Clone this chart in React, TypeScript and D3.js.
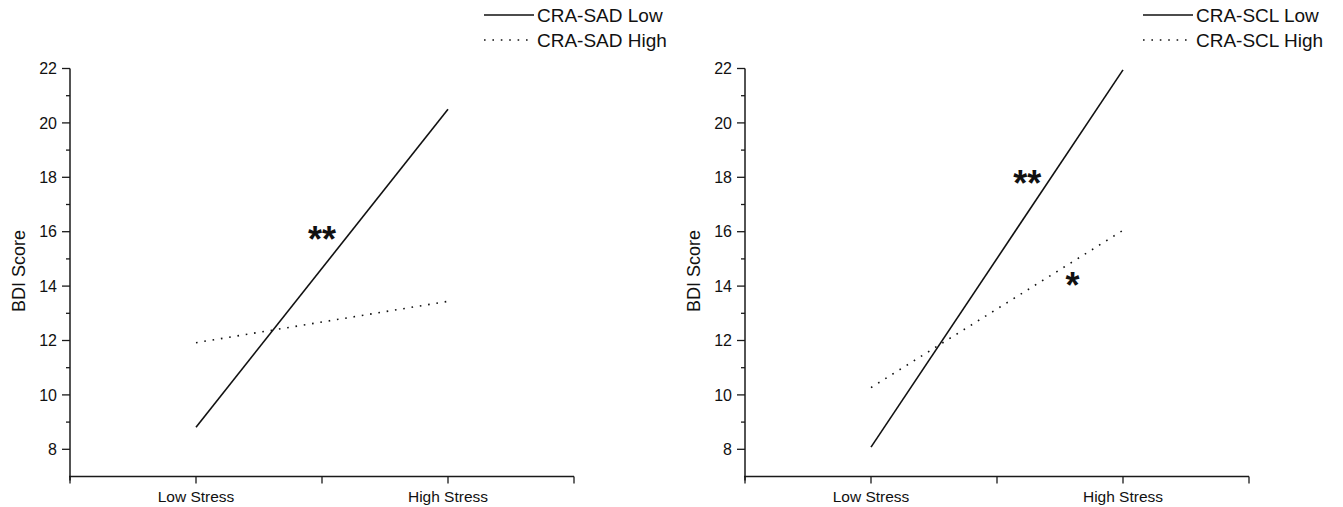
import React, { useEffect, useRef } from "react";
import * as d3 from "d3";

const categories = ["Low Stress", "High Stress"];
const yTicksMajor = [8, 10, 12, 14, 16, 18, 20, 22];
const yTicksMinor = [9, 11, 13, 15, 17, 19, 21];

const sadLow = [8.81, 20.5];
const sadHigh = [11.92, 13.44];
const sclLow = [8.08, 21.95];
const sclHigh = [10.27, 16.05];

const panels = [
  {
    legend: ["CRA-SAD Low", "CRA-SAD High"],
    low: sadLow,
    high: sadHigh,
    stars: [{ text: "**", xPos: 1.5, y: 15.25 }],
  },
  {
    legend: ["CRA-SCL Low", "CRA-SCL High"],
    low: sclLow,
    high: sclHigh,
    stars: [
      { text: "**", xPos: 1.62, y: 17.31 },
      { text: "*", xPos: 1.8, y: 13.56 },
    ],
  },
];

const W = 1343;
const H = 507;
const FONT = "'Liberation Sans', Arial, Helvetica, sans-serif";

export default function App() {
  const ref = useRef<SVGSVGElement>(null);
  useEffect(() => {
    document.body.style.margin = "0";
    const svg = d3.select(ref.current);
    svg.selectAll("*").remove();
    const layouts = [
      { x0: 70, x1: 574, legX: 484 },
      { x0: 745, x1: 1249, legX: 1143 },
    ];
    panels.forEach((p, i) => {
      const L = layouts[i];
      const x = d3.scaleLinear().domain([0.5, 2.5]).range([L.x0, L.x1]);
      const y = d3.scaleLinear().domain([7, 22]).range([476.5, 68.5]);
      const g = svg.append("g");
      const axisColor = "#1a1a1a";
      g.append("line")
        .attr("x1", L.x0).attr("x2", L.x0)
        .attr("y1", y(22)).attr("y2", y(7) + 4)
        .attr("stroke", axisColor).attr("stroke-width", 1.5);
      g.selectAll(".ymaj").data(yTicksMajor).enter().append("line")
        .attr("x1", L.x0 - 8).attr("x2", L.x0)
        .attr("y1", (d) => y(d)).attr("y2", (d) => y(d))
        .attr("stroke", axisColor).attr("stroke-width", 1.3);
      g.selectAll(".ymin").data(yTicksMinor).enter().append("line")
        .attr("x1", L.x0 - 4).attr("x2", L.x0)
        .attr("y1", (d) => y(d)).attr("y2", (d) => y(d))
        .attr("stroke", axisColor).attr("stroke-width", 1.3);
      g.selectAll(".ylab").data(yTicksMajor).enter().append("text")
        .attr("x", L.x0 - 13).attr("y", (d) => y(d))
        .attr("dy", "0.36em")
        .attr("text-anchor", "end")
        .attr("font-family", FONT).attr("font-size", 16)
        .attr("fill", "#111")
        .text((d) => String(d));
      g.append("line")
        .attr("x1", L.x0 - 1).attr("x2", L.x1)
        .attr("y1", y(7)).attr("y2", y(7))
        .attr("stroke", axisColor).attr("stroke-width", 1.5);
      g.selectAll(".xt").data([0.5, 1, 1.5, 2, 2.5]).enter().append("line")
        .attr("x1", (d) => x(d)).attr("x2", (d) => x(d))
        .attr("y1", y(7)).attr("y2", y(7) + 7)
        .attr("stroke", axisColor).attr("stroke-width", 1.3);
      g.selectAll(".xl").data(categories).enter().append("text")
        .attr("x", (_d, j) => x(j + 1)).attr("y", 502)
        .attr("text-anchor", "middle")
        .attr("font-family", FONT).attr("font-size", 15.5)
        .attr("fill", "#111")
        .text((d) => d);
      g.append("text")
        .attr("transform", `translate(${L.x0 - 45},${271}) rotate(-90)`)
        .attr("text-anchor", "middle")
        .attr("font-family", FONT).attr("font-size", 18)
        .attr("fill", "#111")
        .text("BDI Score");
      const line = d3.line<number>().x((_d, j) => x(j + 1)).y((d) => y(d));
      g.append("path").attr("d", line(p.low) as string)
        .attr("fill", "none").attr("stroke", "#111").attr("stroke-width", 1.6);
      g.append("path").attr("d", line(p.high) as string)
        .attr("fill", "none").attr("stroke", "#111").attr("stroke-width", 1.6)
        .attr("stroke-dasharray", "1.6 6.8");
      p.stars.forEach((s) => {
        g.append("text")
          .attr("x", x(s.xPos)).attr("y", y(s.y))
          .attr("text-anchor", "middle")
          .attr("font-family", FONT).attr("font-size", 36)
          .attr("font-weight", "bold")
          .attr("fill", "#111")
          .text(s.text);
      });
      const rows = [{ t: p.legend[0], dash: null }, { t: p.legend[1], dash: "1.6 6.8" }];
      rows.forEach((r, k) => {
        const ly = 15 + k * 25;
        const ln = g.append("line")
          .attr("x1", L.legX).attr("x2", L.legX + 50)
          .attr("y1", ly).attr("y2", ly)
          .attr("stroke", "#111").attr("stroke-width", 1.6);
        if (r.dash) ln.attr("stroke-dasharray", r.dash);
        g.append("text")
          .attr("x", L.legX + 53).attr("y", ly)
          .attr("dy", "0.36em")
          .attr("font-family", FONT).attr("font-size", 19)
          .attr("fill", "#111")
          .text(r.t);
      });
    });
  }, []);
  return <svg ref={ref} width={W} height={H} style={{ display: "block", background: "#fff" }} />;
}
